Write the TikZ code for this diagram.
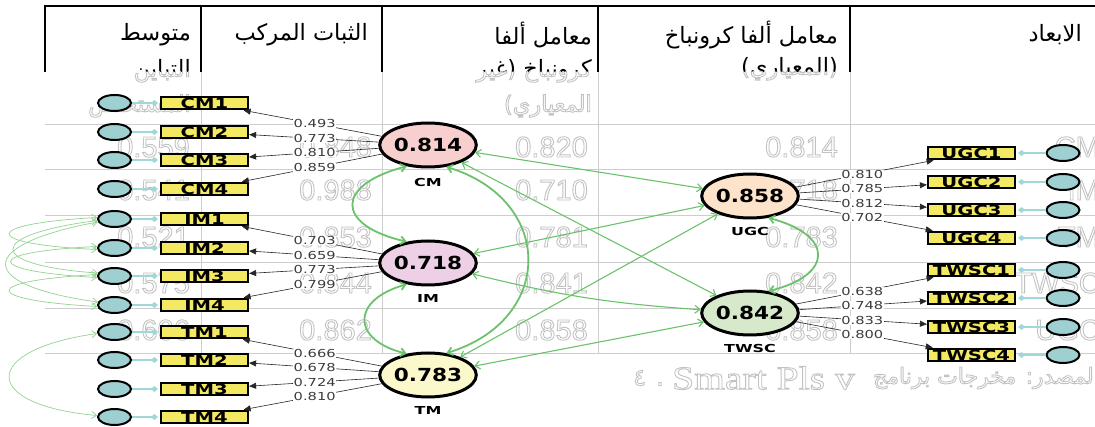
\documentclass[tikz,border=0pt]{standalone}
\usepackage{fontspec}
\usetikzlibrary{arrows.meta,calc,shapes.geometric}
\TeXXeTstate=1
\newfontfamily\arabicfont[Script=Arabic]{DejaVu Sans}
\newfontfamily\ghostfont{Liberation Sans}
\newfontfamily\ghostserif[FakeStretch=1.2]{Liberation Serif}
\newfontfamily\boxfont[FakeStretch=1.4]{DejaVu Sans}
\newfontfamily\lblfont[FakeStretch=1.33]{DejaVu Sans}
\newfontfamily\valfont[FakeStretch=1.2]{DejaVu Sans}
\newfontfamily\namefont[FakeStretch=1.45]{DejaVu Sans}
\definecolor{boxyellow}{HTML}{F4E962}
\definecolor{errfill}{HTML}{9ECFD1}
\definecolor{errline}{HTML}{A0D8DA}
\definecolor{sgreen}{HTML}{6CC26C}
\definecolor{lgreen}{HTML}{92D392}
\definecolor{cmfill}{HTML}{F8CFCF}
\definecolor{imfill}{HTML}{EDD0E5}
\definecolor{tmfill}{HTML}{FBF8CB}
\definecolor{ugcfill}{HTML}{FDE3CA}
\definecolor{twfill}{HTML}{D6E9CB}
\definecolor{ghostline}{HTML}{C2C2C2}
\definecolor{gridc}{HTML}{CDCDCD}
\definecolor{lblc}{HTML}{3C3C3C}
\newcommand{\gtext}[1]{\special{pdf:literal direct 1 Tr 0.9 w}#1\special{pdf:literal direct 0 Tr}}
\begin{document}
\begin{tikzpicture}[x=1pt,y=-1pt,
  ind/.style={draw=black, line width=2.2pt, fill=boxyellow, minimum width=87pt, minimum height=12.5pt, inner sep=0pt, font=\boxfont\bfseries\fontsize{14}{14}\selectfont},
  err/.style={ellipse, draw=black, line width=2pt, fill=errfill, minimum width=33pt, minimum height=16pt, inner sep=0pt},
  lat/.style={ellipse, draw=black, line width=3pt, minimum width=88pt, minimum height=44pt, inner sep=0pt, font=\valfont\bfseries\fontsize{18}{18}\selectfont},
  latname/.style={inner sep=0pt, font=\namefont\bfseries\fontsize{11}{11}\selectfont},
  load/.style={draw=black!85, line width=0.6pt, -{Triangle[length=7pt,width=6pt]}},
  lbl/.style={fill=white, inner sep=0.5pt, text height=8pt, text depth=0pt, text=lblc, font=\lblfont\fontsize{11}{11}\selectfont},
  errc/.style={draw=errline, line width=1.3pt, -{Diamond[length=7pt,width=6pt]}, shorten >=2pt},
  cov/.style={draw=sgreen, line width=1.1pt, {Straight Barb[length=5pt,width=8pt]}-{Straight Barb[length=5pt,width=8pt]}},
  covthick/.style={cov, line width=1.8pt},
  ecov/.style={draw=lgreen, line width=0.7pt, {Straight Barb[length=5pt,width=7pt]}-{Straight Barb[length=5pt,width=7pt]}},
  hdr/.style={font=\arabicfont\fontsize{22.5}{22.5}\selectfont, anchor=east, inner sep=0pt},
  ghosthdr/.style={hdr, text=ghostline},
  ghostnum/.style={font=\ghostfont\fontsize{29}{29}\selectfont, text=ghostline, anchor=east, inner sep=0pt}
]
\useasboundingbox (0,0) rectangle (1095,427);
\fill[white] (0,0) rectangle (1095,427);

% ---------- ghost table values ----------
\foreach \v/\y in {0.559/147,0.541/190,0.521/237,0.575/283,0.606/330}
  \node[ghostnum] (ga\y) at (190,\y) {\gtext{\v}};
\foreach \v/\y in {0.848/147,0.988/190,0.853/237,0.844/283,0.862/330}
  \node[ghostnum] (gb\y) at (372,\y) {\gtext{\v}};
\foreach \v/\y in {0.820/147,0.710/190,0.781/237,0.841/283,0.858/330}
  \node[ghostnum] (gc\y) at (588,\y) {\gtext{\v}};
\foreach \v/\y in {0.814/147,0.718/190,0.783/237,0.842/283,0.858/330}
  \node[ghostnum] (gd\y) at (838,\y) {\gtext{\v}};
\foreach \v/\y in {CM/147,IM/190,TM/237,TWSC/283,UGC/330}
  \node[ghostnum] (ge\y) at (1100,\y) {\gtext{\v}};
\node[ghosthdr] (g3c) at (592,106) {\gtext{\beginR المعياري)\endR}};
\node[ghosthdr] (g1c) at (191,106) {\gtext{\beginR المستخلص\endR}};
\node[anchor=east, inner sep=0pt, text=ghostline, font=\arabicfont\fontsize{22}{22}\selectfont] (srcA) at (1100,378) {\gtext{\beginR المصدر: مخرجات برنامج\endR}};
\node[anchor=east, inner sep=0pt, text=ghostline, font=\ghostserif\fontsize{33}{33}\selectfont] (srcB) at (855,378) {\gtext{Smart Pls v}};
\node[anchor=east, inner sep=0pt, text=ghostline, font=\arabicfont\fontsize{24}{24}\selectfont] (srcC) at (664,378) {\gtext{\beginR. ٤\endR}};

% ---------- grid ----------
\foreach \y in {124,169,215,262,308,353}
  \draw[gridc, line width=0.8pt] (45,\y) -- (1095,\y);
\foreach \x in {201,382,598,850}
  \draw[gridc, line width=0.8pt] (\x,72) -- (\x,353);

% ---------- header ----------
\draw[line width=2.5pt] (44,6) -- (1095,6);
\foreach \x in {45,201,382,598,850}
  \draw[line width=2.5pt] (\x,6) -- (\x,72);
\node[hdr] (h5) at (1082,35) {\beginR الابعاد\endR};
\node[hdr] (h4) at (838,35) {\beginR معامل ألفا كرونباخ\endR};
\node[hdr] (h3) at (592,35) {\beginR معامل ألفا\endR};
\node[hdr] (h2) at (368,35) {\beginR الثبات المركب\endR};
\node[hdr] (h1) at (191,35) {\beginR متوسط\endR};
\begin{scope}
  \clip (0,0) rectangle (1095,72);
  \node[hdr] (h4b) at (838,69) {\beginR (المعياري)\endR};
  \node[hdr] (h3b) at (592,71) {\beginR كرونباخ (غير\endR};
  \node[hdr] (h1b) at (191,71) {\beginR التباين\endR};
\end{scope}
\begin{scope}
  \clip (0,72) rectangle (1095,427);
  \node[ghosthdr] (h4g) at (838,69) {\gtext{\beginR (المعياري)\endR}};
  \node[ghosthdr] (h3g) at (592,71) {\gtext{\beginR كرونباخ (غير\endR}};
  \node[ghosthdr] (h1g) at (191,71) {\gtext{\beginR التباين\endR}};
\end{scope}

% ---------- left indicators ----------
\foreach \n/\y in {CM1/103,CM2/132,CM3/160,CM4/189,IM1/219,IM2/248,IM3/276,IM4/305,TM1/332,TM2/360,TM3/389,TM4/417}{
  \node[ind] (\n) at (204.5,\y) {\n};
  \node[err] (e\n) at (114.5,\y) {};
  \draw[errc] (e\n) -- (\n);
}
% ---------- right indicators ----------
\foreach \n/\y in {UGC1/153,UGC2/182,UGC3/210,UGC4/238,TWSC1/270,TWSC2/298,TWSC3/327,TWSC4/355}{
  \node[ind] (\n) at (971.5,\y) {\n};
  \node[err] (e\n) at (1063,\y) {};
  \draw[errc] (e\n) -- (\n);
}

% ---------- latent variables ----------
\node[lat, fill=cmfill] (CM) at (428,145) {0.814};
\node[lat, fill=imfill] (IM) at (428,263) {0.718};
\node[lat, fill=tmfill] (TM) at (428,375) {0.783};
\node[lat, fill=ugcfill] (UGC) at (750,196) {0.858};
\node[lat, fill=twfill] (TWSC) at (750,313) {0.842};
\node[latname] (nCM) at (428,182) {CM};
\node[latname] (nIM) at (428,298) {IM};
\node[latname] (nTM) at (428,410) {TM};
\node[latname] (nUGC) at (750,231) {UGC};
\node[latname] (nTWSC) at (750,348) {TWSC};

% ---------- loadings ----------
\foreach \l/\i in {CM/CM1,CM/CM2,CM/CM3,CM/CM4,IM/IM1,IM/IM2,IM/IM3,IM/IM4,TM/TM1,TM/TM2,TM/TM3,TM/TM4,UGC/UGC1,UGC/UGC2,UGC/UGC3,UGC/UGC4,TWSC/TWSC1,TWSC/TWSC2,TWSC/TWSC3,TWSC/TWSC4}
  \draw[load] (\l) -- (\i);
\foreach \l/\i/\v in {CM/CM1/0.493,CM/CM2/0.773,CM/CM3/0.810,CM/CM4/0.859,IM/IM1/0.703,IM/IM2/0.659,IM/IM3/0.773,IM/IM4/0.799,TM/TM1/0.666,TM/TM2/0.678,TM/TM3/0.724,TM/TM4/0.810,UGC/UGC1/0.810,UGC/UGC2/0.785,UGC/UGC3/0.812,UGC/UGC4/0.702,TWSC/TWSC1/0.638,TWSC/TWSC2/0.748,TWSC/TWSC3/0.833,TWSC/TWSC4/0.800}
  \node[lbl] (L\i) at ($(\l.center)!0.507!(\i.center)$) {\v};

% ---------- structural covariances ----------
\draw[cov] (CM) -- (UGC);
\draw[cov] (CM) -- (TWSC);
\draw[cov] (IM) -- (UGC);
\draw[cov] (IM) to[bend right=5] (TWSC);
\draw[cov] (TM) -- (UGC);
\draw[cov] (TM) -- (TWSC);
\draw[covthick] (CM.-50) .. controls (555,200) and (555,320) .. (TM.50);
\draw[covthick] (CM.-135) .. controls (335,185) and (335,225) .. (IM.135);
\draw[covthick] (IM.-135) .. controls (351,300) and (351,340) .. (TM.135);
\draw[covthick] (UGC.-50) .. controls (834,235) and (834,275) .. (TWSC.50);

% ---------- error covariances ----------
\draw[ecov] (eIM1.175) .. controls (-20,224) and (-20,244) .. (eIM2.185);
\draw[ecov] (eIM2.175) .. controls (-18,252) and (-18,271) .. (eIM3.185);
\draw[ecov] (eIM3.175) .. controls (-20,281) and (-20,300) .. (eIM4.185);
\draw[ecov] (eIM1.185) .. controls (-15,235) and (-15,265) .. (eIM3.170);
\draw[ecov] (eIM1.190) .. controls (-25,245) and (-25,285) .. (eIM4.170);
\draw[ecov] (eTM1.185) .. controls (-20,350) and (-20,405) .. (eTM4.175);
\end{tikzpicture}
\end{document}
